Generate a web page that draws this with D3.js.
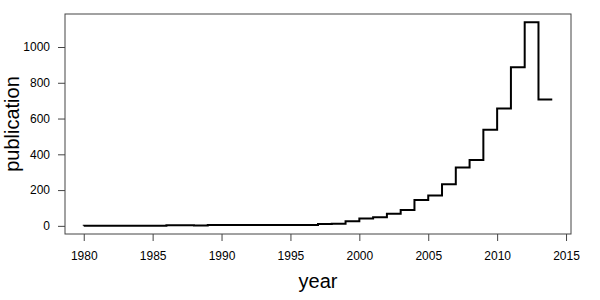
<!DOCTYPE html>
<html>

<head>
    <title>publication per year</title>
    <script src="https://d3js.org/d3.v7.min.js"></script>
    <style>
        body { margin: 0; background: white; }
        text { font-family: "Liberation Sans", Arial, sans-serif; fill: #000; }
    </style>
</head>

<body>
    <svg id='chart' width='600' height='300'></svg>

    <script>
        // publications per year
        let years = [1980, 1981, 1982, 1983, 1984, 1985, 1986, 1987, 1988, 1989,
            1990, 1991, 1992, 1993, 1994, 1995, 1996, 1997, 1998, 1999,
            2000, 2001, 2002, 2003, 2004, 2005, 2006, 2007, 2008, 2009,
            2010, 2011, 2012, 2013, 2014]
        let publications = [0, 1, 1, 1, 1, 1, 1, 4, 4, 2,
            5, 5, 5, 5, 5, 5, 5, 5, 10, 12,
            26, 41, 48, 68, 89, 144, 170, 233, 326, 368,
            537, 656, 887, 1139, 707]
        let xTicks = [1980, 1985, 1990, 1995, 2000, 2005, 2010, 2015]
        let yTicks = [0, 200, 400, 600, 800, 1000]

        let box = { left: 65, right: 571, top: 14, bottom: 234 }
        let svg = d3.select('#chart')

        // R style 4% padding on both axes
        function padded(ext) {
            let p = (ext[1] - ext[0]) * 0.04
            return [ext[0] - p, ext[1] + p]
        }

        let x = d3.scaleLinear()
            .domain(padded(d3.extent(years)))
            .range([box.left, box.right])
        let y = d3.scaleLinear()
            .domain(padded(d3.extent(publications)))
            .range([box.bottom, box.top])

        let xAxis = svg.append('g')
            .attr('transform', 'translate(0,' + box.bottom + ')')
            .call(d3.axisBottom(x).tickValues(xTicks).tickFormat(d3.format('d')).tickSize(7).tickPadding(10))
        let yAxis = svg.append('g')
            .attr('transform', 'translate(' + box.left + ',0)')
            .call(d3.axisLeft(y).tickValues(yTicks).tickFormat(d3.format('d')).tickSize(7).tickPadding(8))

        svg.selectAll('.domain').remove()
        svg.selectAll('.tick line').attr('stroke', '#444')
        svg.selectAll('.tick text').style('font-size', '12px').attr('fill', '#000')

        let line = d3.line()
            .x(function(d, i) { return x(years[i]) })
            .y(function(d) { return y(d) })
            .curve(d3.curveStepBefore)

        svg.append('path')
            .datum(publications)
            .attr('d', line)
            .attr('fill', 'none')
            .attr('stroke', '#000')
            .attr('stroke-width', 2)

        svg.append('rect')
            .attr('x', box.left)
            .attr('y', box.top)
            .attr('width', box.right - box.left)
            .attr('height', box.bottom - box.top)
            .attr('fill', 'none')
            .attr('stroke', '#444')
            .attr('stroke-width', 1)

        svg.append('text')
            .text('year')
            .attr('x', (box.left + box.right) / 2)
            .attr('y', 288)
            .attr('text-anchor', 'middle')
            .style('font-size', '20px')

        svg.append('text')
            .text('publication')
            .attr('text-anchor', 'middle')
            .attr('transform', 'translate(19,' + (box.top + box.bottom) / 2 + ') rotate(-90)')
            .style('font-size', '20px')
    </script>
</body>

</html>
